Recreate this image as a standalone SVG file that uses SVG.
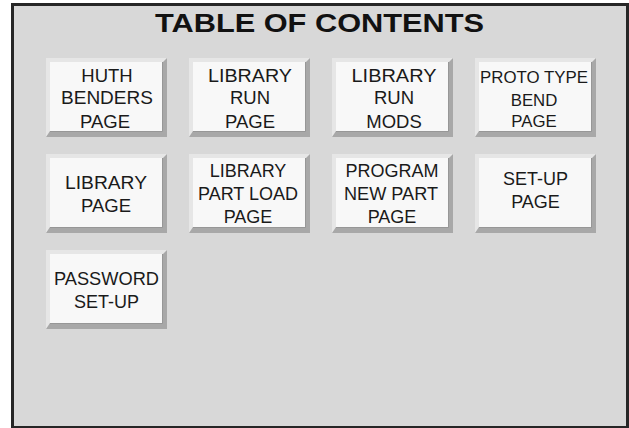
<svg xmlns="http://www.w3.org/2000/svg" width="629" height="428" viewBox="0 0 629 428">
<style>
.frame{fill:#d8d8d8;stroke:#262626;stroke-width:3}
.shadow{fill:#a8a8a8}
.hl{fill:#e6e6e6}
.face{fill:#f8f8f8}
.edge{fill:none;stroke:#979797;stroke-width:1}
.title{font-family:"Liberation Sans",Arial,sans-serif;font-weight:bold;font-size:26px;fill:#111;text-anchor:middle}
.lbl{font-family:"Liberation Sans",Arial,sans-serif;font-size:18.5px;fill:#1a1a1a;text-anchor:middle}
.s18{font-size:18px}
.s17{font-size:16.8px}
</style>
<defs>
<g id="btn">
<rect class="shadow" x="0" y="0" width="121" height="79"/>
<polygon class="hl" points="0,0 121,0 117,4 4,4 4,73 0,79"/>
<rect class="face" x="4" y="4" width="112" height="69"/>
<polyline class="edge" points="116.5,4 116.5,73.5 4,73.5"/>
</g>
</defs>
<rect width="629" height="428" fill="#ffffff"/>
<rect class="frame" x="12.5" y="4.5" width="615" height="423"/>
<text class="title" x="319.5" y="32" textLength="329" lengthAdjust="spacingAndGlyphs">TABLE OF CONTENTS</text>
<g id="connectors"></g>
<g id="huth-benders-page">
<use href="#btn" x="46" y="58"/>
<text class="lbl" x="107" y="81.7">HUTH</text>
<text class="lbl" x="107" y="104" textLength="92" lengthAdjust="spacingAndGlyphs">BENDERS</text>
<text class="lbl" x="105" y="127.7">PAGE</text>
</g>
<g id="library-run-page">
<use href="#btn" x="189" y="58"/>
<text class="lbl" x="250" y="81.7" textLength="84" lengthAdjust="spacingAndGlyphs">LIBRARY</text>
<text class="lbl" x="250" y="104">RUN</text>
<text class="lbl" x="250" y="127.7">PAGE</text>
</g>
<g id="library-run-mods">
<use href="#btn" x="332" y="58"/>
<text class="lbl" x="394" y="81.7" textLength="85" lengthAdjust="spacingAndGlyphs">LIBRARY</text>
<text class="lbl" x="394" y="104">RUN</text>
<text class="lbl" x="394" y="127.7">MODS</text>
</g>
<g id="proto-type-bend-page">
<use href="#btn" x="475" y="58"/>
<text class="lbl s17" x="534" y="83.3" textLength="108" lengthAdjust="spacingAndGlyphs">PROTO TYPE</text>
<text class="lbl s17" x="534" y="105.7">BEND</text>
<text class="lbl s17" x="534" y="127">PAGE</text>
</g>
<g id="library-page">
<use href="#btn" x="46" y="154"/>
<text class="lbl" x="106" y="189.3" textLength="82" lengthAdjust="spacingAndGlyphs">LIBRARY</text>
<text class="lbl" x="106" y="211.7">PAGE</text>
</g>
<g id="library-part-load-page">
<use href="#btn" x="189" y="154"/>
<text class="lbl s18" x="248" y="176.7">LIBRARY</text>
<text class="lbl s18" x="248" y="200" textLength="100" lengthAdjust="spacingAndGlyphs">PART LOAD</text>
<text class="lbl s18" x="248" y="223">PAGE</text>
</g>
<g id="program-new-part-page">
<use href="#btn" x="332" y="154"/>
<text class="lbl s18" x="392" y="176.7" textLength="93" lengthAdjust="spacingAndGlyphs">PROGRAM</text>
<text class="lbl s18" x="391" y="200" textLength="94" lengthAdjust="spacingAndGlyphs">NEW PART</text>
<text class="lbl s18" x="392" y="223">PAGE</text>
</g>
<g id="set-up-page">
<use href="#btn" x="475" y="154"/>
<text class="lbl s18" x="535.5" y="185">SET-UP</text>
<text class="lbl s18" x="535.5" y="208.3">PAGE</text>
</g>
<g id="password-set-up">
<use href="#btn" x="46" y="250"/>
<text class="lbl s18" x="106.5" y="285" textLength="105" lengthAdjust="spacingAndGlyphs">PASSWORD</text>
<text class="lbl s18" x="106.5" y="308.3">SET-UP</text>
</g>
</svg>
